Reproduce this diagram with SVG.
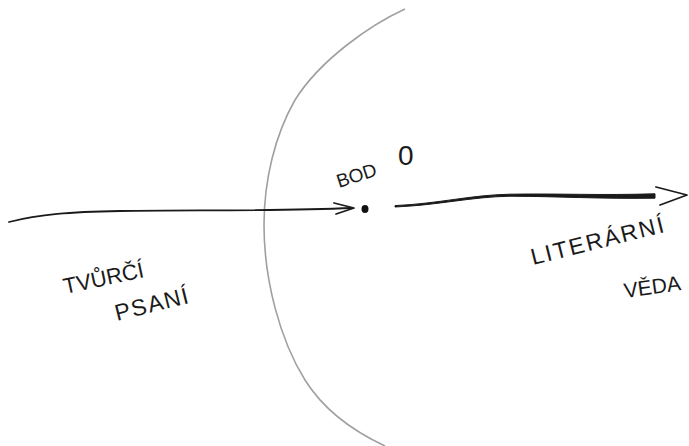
<svg xmlns="http://www.w3.org/2000/svg" width="689" height="446" viewBox="0 0 689 446">
<style>
.ink{fill:none;stroke:#1a1a1a;stroke-linecap:round;stroke-linejoin:round}
.lbl{font-family:"Liberation Sans","DejaVu Sans",sans-serif;fill:#1a1a1a}
</style>
<rect width="689" height="446" fill="#ffffff"/>
<g id="boundary">
<path d="M405,9 C370,25 320,60 295,100 C275,135 264,180 264,225 C264,280 280,340 305,380 C325,412 355,432 385,446" fill="none" stroke="#a0a0a0" stroke-width="1.6"/>
</g>
<g id="connectors">
<path class="ink" stroke-width="1.8" d="M9,222 C40,214 70,212 120,211 C200,210 280,211 352,208"/>
<path class="ink" stroke-width="1.8" d="M334,203 L354,208 L336,214"/>
<path fill="#1a1a1a" stroke="#1a1a1a" stroke-width="1" stroke-linejoin="round" d="M395,205.6 C440,203.5 470,195 510,194.2 C560,193.4 600,195.5 655,193.8 L655,198.2 C600,199 560,196.4 510,196.2 C470,197 440,205 395,207 Z"/>
<path class="ink" stroke-width="1.8" d="M656,187 L687,195 L660,205"/>
</g>
<g id="bod0">
<ellipse cx="365" cy="209" rx="3.5" ry="4" fill="#111"/>
<text class="lbl" x="339" y="188" font-size="19" transform="rotate(-18 339 188)">BOD</text>
<text class="lbl" x="398" y="165" font-size="28">0</text>
</g>
<g id="tvurci-psani">
<text class="lbl" x="65" y="294" font-size="22" transform="rotate(-12 65 294)">TVŮRČÍ</text>
<text class="lbl" x="117" y="321" font-size="23" letter-spacing="1.5" transform="rotate(-14 117 321)">PSANÍ</text>
</g>
<g id="literarni-veda">
<text class="lbl" x="533" y="265" font-size="23" letter-spacing="2" transform="rotate(-14 533 265)">LITERÁRNÍ</text>
<text class="lbl" x="625" y="298" font-size="21" transform="rotate(-8 625 298)">VĚDA</text>
</g>
</svg>
